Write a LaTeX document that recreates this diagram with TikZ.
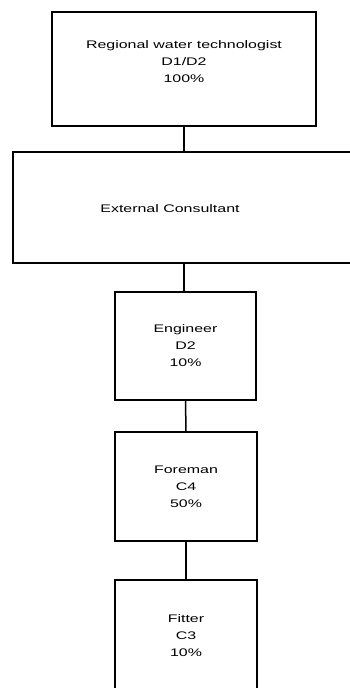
\documentclass[tikz,border=0pt]{standalone}
\usepackage{fontspec}
\newfontfamily\orgfont[FakeStretch=1.45]{Liberation Sans}
\usepackage{tikz}

\begin{document}
\begin{tikzpicture}[x=1pt,y=-1pt]
\tikzstyle{box}=[draw,line width=1.5pt,align=center,inner sep=2pt,font=\orgfont\fontsize{11}{17}\selectfont]
\tikzstyle{link}=[line width=1.5pt]
\useasboundingbox (0,0) rectangle (350,688);
\clip (0,0) rectangle (350,688);

\node[box,minimum width=264pt,minimum height=114pt,
  label={[yshift=7pt,align=center,font=\orgfont\fontsize{11}{17}\selectfont]center:Regional water technologist\\D1/D2\\100\%}] (tech) at (184,69) {};
\node[box,minimum width=354pt,minimum height=111pt,
  label={[xshift=-20pt,yshift=-1pt,font=\orgfont\fontsize{11}{17}\selectfont]center:External Consultant}] (cons) at (190,207.5) {};
\node[box,minimum width=141pt,minimum height=108pt] (eng) at (185.5,346) {Engineer\\D2\\10\%};
\node[box,minimum width=142pt,minimum height=109pt] (fore) at (186,486.5) {Foreman\\C4\\50\%};
\node[box,minimum width=142pt,minimum height=112pt] (fit) at (186,636) {Fitter\\C3\\10\%};

\draw[link] (tech.south) -- (tech.south |- cons.north);
\draw[link] (eng.north -| tech.south) -- (cons.south -| tech.south);
\draw[link] (eng.south) -- (fore.north);
\draw[link] (fore.south) -- (fit.north);
\end{tikzpicture}
\end{document}
